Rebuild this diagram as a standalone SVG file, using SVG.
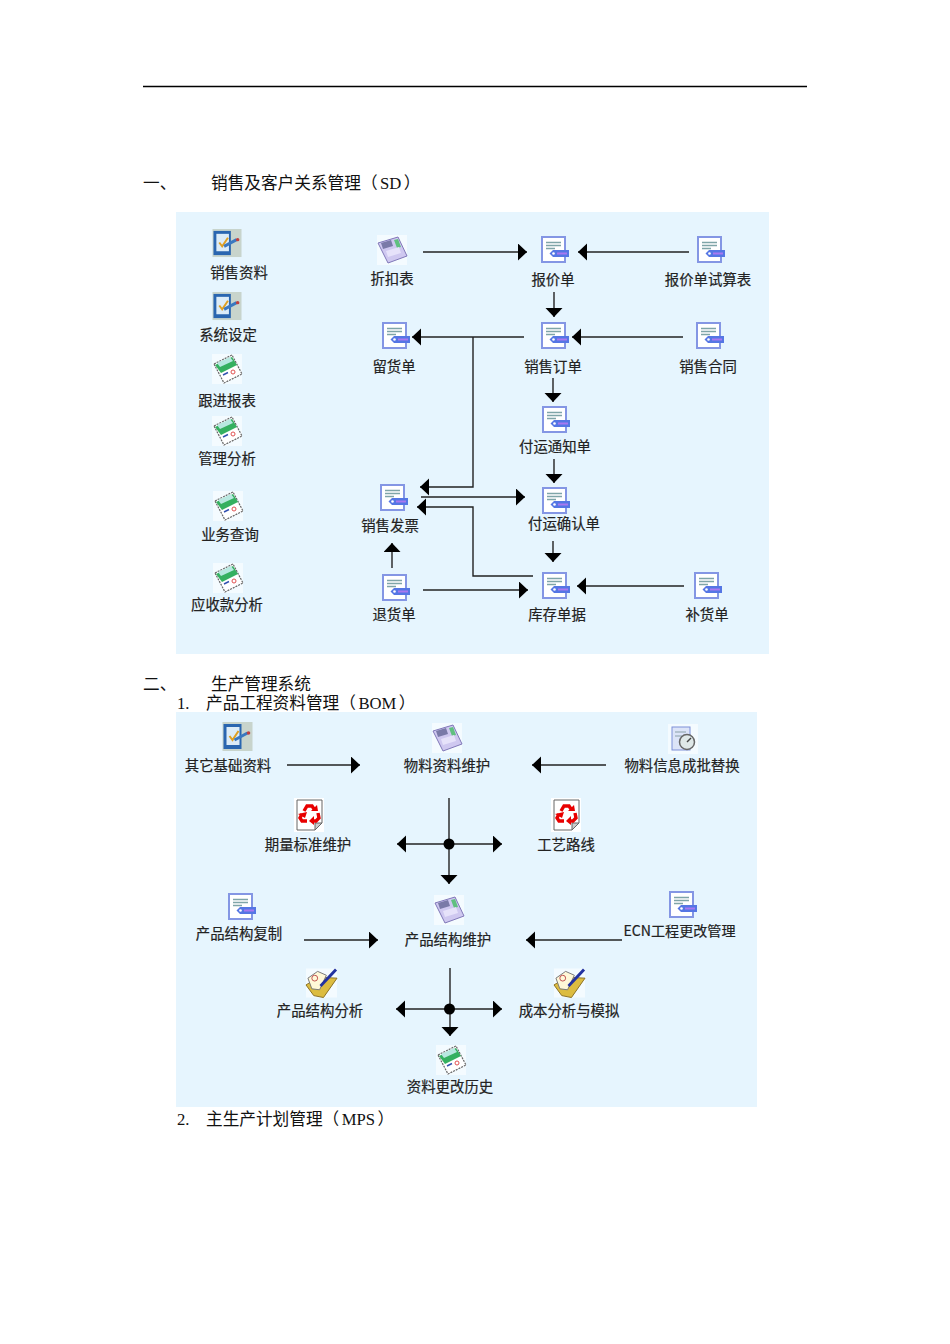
<svg xmlns="http://www.w3.org/2000/svg" width="950" height="1344" viewBox="0 0 950 1344">
<style>
text{font-family:"Liberation Serif","Noto Sans CJK SC",serif;fill:#111}
.h{font-size:16.67px}
.l{font-family:"Noto Sans CJK SC","Noto Sans",sans-serif;font-size:14.4px;text-anchor:middle;fill:#222;stroke:#222;stroke-width:.2px}
.p{fill:#e6f5fe}
.c{fill:none;stroke:#222;stroke-width:1.4}
use{filter:url(#soft)}
</style>
<defs>
<filter id="soft" x="-10%" y="-10%" width="120%" height="120%"><feGaussianBlur stdDeviation=".3"/></filter>
<marker id="a" markerUnits="userSpaceOnUse" markerWidth="10" markerHeight="18" refX="9" refY="8.500" orient="auto"><path d="M0 0L9 8.500L0 17Z" fill="#000"/></marker>
<symbol id="doc" viewBox="0 0 30 30" overflow="visible"><rect x="3" y="2" width="23" height="25" fill="#fff" stroke="#8496e4" stroke-width="2"/><path d="M7 7.500H22M7 10.500H22M7 13.500H16" stroke="#7fa5a8" stroke-width="1.500"/><path d="M14 15H30V22H14L10.500 18.500Z" fill="#5576e4"/><path d="M18 17.500H28V19.500H18Z" fill="#a878f0"/><circle cx="14.500" cy="18.500" r="1.300" fill="#fff"/></symbol>
<symbol id="tab" viewBox="0 0 30 30" overflow="visible"><rect width="30" height="29" fill="#c8d4cc"/><path d="M1 2H19V27H1Z" fill="#2a66b0"/><rect x="4" y="5" width="13" height="18" fill="#dcecf8"/><path d="M7 14L10 18L16 9" fill="none" stroke="#e0a020" stroke-width="2"/><path d="M12 18L25 11" stroke="#3a78c0" stroke-width="3"/><circle cx="26" cy="11" r="1.800" fill="#c04040"/></symbol>
<symbol id="rep" viewBox="0 0 30 30" overflow="visible"><rect width="30" height="30" fill="#f4fbff"/><path d="M2 10L20 1L30 20L12 29Z" fill="#fff" stroke="#666" stroke-width="1.200" stroke-dasharray="2 1"/><path d="M3 11L20 3L25 11L9 19Z" fill="#35b060"/><path d="M5 9L18 3L21 7L8 13Z" fill="#b8e8e0"/><path d="M11 21L16 18.500" stroke="#3050b0" stroke-width="1.500"/><circle cx="21" cy="18" r="2" fill="none" stroke="#e05050"/></symbol>
<symbol id="calc" viewBox="0 0 30 30" overflow="visible"><rect width="30" height="30" fill="#f4fbff"/><path d="M1 8L21 2L30 21L11 28Z" fill="#cfc8f0" stroke="#8078b8"/><path d="M4 8L14 5L16 11L6 14Z" fill="#7a7aa8"/><path d="M17 5L21 4L24 12L20 13Z" fill="#60c080"/><path d="M9 16L22 12L24 18L11 22Z" fill="#e6e2fa"/></symbol>
<symbol id="rec" viewBox="0 0 30 34" overflow="visible"><path d="M0 0H30V34H0Z" fill="#fff"/><path d="M3 2H28V25L21 32H3Z" fill="#fff" stroke="#666"/><path d="M21 32V25H28Z" fill="#ccc" stroke="#666"/><g fill="none" stroke="#e80000" stroke-width="3.400"><path d="M10 13L13 8H18L20 11"/><path d="M24 15L25 20L22 23H19"/><path d="M13 23H8L6 20L8 16"/></g><g fill="#e80000"><path d="M17 13H24L23 7Z"/><path d="M20 18V27L15 23Z"/><path d="M4 16L13 14L11 20Z"/></g></symbol>
<symbol id="gauge" viewBox="0 0 30 30" overflow="visible"><rect width="30" height="30" fill="#f4fbff"/><rect x="4" y="3" width="18" height="23" fill="#dce4f8" stroke="#7d8fd8"/><path d="M7 8H18M7 12H14" stroke="#8aa0a8"/><circle cx="19" cy="18" r="7.500" fill="#dfe8e8" stroke="#666" stroke-width="1.500"/><path d="M19 18L23 14" stroke="#444" stroke-width="1.500"/></symbol>
<symbol id="note" viewBox="0 0 32 30" overflow="visible"><rect width="32" height="30" fill="#f4fbff"/><path d="M0 17L13 9L32 10L18 30L8 28Z" fill="#dcbc40" stroke="#8a7020"/><path d="M2 10L12 3L21 7L14 22L6 21Z" fill="#fff8d8" stroke="#777"/><circle cx="9" cy="10" r="3" fill="none" stroke="#c05050"/><path d="M15 18L31 1" stroke="#2030a0" stroke-width="3"/></symbol>
</defs>
<rect width="950" height="1344" fill="#fff"/>
<path d="M143 86.500H807" stroke="#000" stroke-width="1.500"/>
<text class="h" x="143" y="189">一、</text><text class="h" x="211" y="189">销售及客户关系管理（<tspan dx="2.500">SD</tspan><tspan dx="2.500">）</tspan></text>
<rect id="panel-sd" class="p" x="176" y="212" width="593" height="442"/>
<text class="h" x="143" y="690">二、</text><text class="h" x="211" y="690">生产管理系统</text>
<text class="h" x="177" y="709">1.</text><text class="h" x="206" y="709">产品工程资料管理（<tspan dx="2.500">BOM</tspan><tspan dx="2.500">）</tspan></text>
<rect id="panel-bom" class="p" x="176" y="712" width="581" height="395"/>
<text class="h" x="177" y="1125">2.</text><text class="h" x="206" y="1125">主生产计划管理（<tspan dx="2.500">MPS</tspan><tspan dx="2.500">）</tspan></text>
<g id="connectors" class="c" marker-end="url(#a)">
<path d="M423 252H527"/><path d="M689 252H578"/><path d="M554 292V317"/>
<path d="M524 337H412"/><path d="M683 337H572"/><path d="M553 378V402"/><path d="M554 459V483"/>
<path d="M473 337V487H420"/><path d="M421 497H525"/>
<path d="M533 576H473V507H417"/><path d="M553 541V562"/><path d="M392 568V543"/>
<path d="M423 590H528"/><path d="M684 586H577"/>
<path d="M287 765H360"/><path d="M606 765H532"/>
<path d="M449 798V884"/><path d="M449 844H397"/><path d="M449 844H502"/>
<path d="M304 940H378"/><path d="M622 940H526"/>
<path d="M450 968V1036"/><path d="M450 1009H396"/><path d="M450 1009H502"/>
</g>
<g id="dots"><circle cx="449" cy="844" r="5.500"/><circle cx="449.500" cy="1009" r="5.500"/></g>
<g id="n-xszl"><use href="#tab" x="212" y="229" width="30" height="29"/><text class="l" x="239" y="278">销售资料</text></g>
<g id="n-xtsd"><use href="#tab" x="212" y="292" width="30" height="29"/><text class="l" x="228" y="340">系统设定</text></g>
<g id="n-gjbb"><use href="#rep" x="212" y="354" width="30" height="30"/><text class="l" x="227" y="406">跟进报表</text></g>
<g id="n-glfx"><use href="#rep" x="212" y="416" width="30" height="30"/><text class="l" x="227" y="464">管理分析</text></g>
<g id="n-ywcx"><use href="#rep" x="213" y="491" width="30" height="30"/><text class="l" x="230" y="540">业务查询</text></g>
<g id="n-yskfx"><use href="#rep" x="213" y="563" width="30" height="30"/><text class="l" x="227" y="610">应收款分析</text></g>
<g id="n-zkb"><use href="#calc" x="377" y="235" width="30" height="30"/><text class="l" x="392" y="284">折扣表</text></g>
<g id="n-bjd"><use href="#doc" x="539" y="235" width="30" height="30"/><text class="l" x="553" y="285">报价单</text></g>
<g id="n-bjdss"><use href="#doc" x="695" y="235" width="30" height="30"/><text class="l" x="708" y="285">报价单试算表</text></g>
<g id="n-lhd"><use href="#doc" x="380" y="321" width="30" height="30"/><text class="l" x="394" y="372">留货单</text></g>
<g id="n-xsdd"><use href="#doc" x="539" y="321" width="30" height="30"/><text class="l" x="553" y="372">销售订单</text></g>
<g id="n-xsht"><use href="#doc" x="694" y="321" width="30" height="30"/><text class="l" x="708" y="372">销售合同</text></g>
<g id="n-fytz"><use href="#doc" x="540" y="405" width="30" height="30"/><text class="l" x="555" y="452">付运通知单</text></g>
<g id="n-xsfp"><use href="#doc" x="378" y="483" width="30" height="30"/><text class="l" x="390" y="531">销售发票</text></g>
<g id="n-fyqr"><use href="#doc" x="540" y="486" width="30" height="30"/><text class="l" x="564" y="529">付运确认单</text></g>
<g id="n-thd"><use href="#doc" x="380" y="573" width="30" height="30"/><text class="l" x="394" y="620">退货单</text></g>
<g id="n-kcdj"><use href="#doc" x="540" y="571" width="30" height="30"/><text class="l" x="557" y="620">库存单据</text></g>
<g id="n-bhd"><use href="#doc" x="692" y="571" width="30" height="30"/><text class="l" x="707" y="620">补货单</text></g>
<g id="n-qtjc"><use href="#tab" x="222" y="722" width="31" height="30"/><text class="l" x="228" y="771">其它基础资料</text></g>
<g id="n-wlzl"><use href="#calc" x="432" y="723" width="30" height="30"/><text class="l" x="447" y="771">物料资料维护</text></g>
<g id="n-wlxx"><use href="#gauge" x="668" y="724" width="30" height="30"/><text class="l" x="682" y="771">物料信息成批替换</text></g>
<g id="n-qlbz"><use href="#rec" x="294" y="798" width="30" height="34"/><text class="l" x="308" y="850">期量标准维护</text></g>
<g id="n-gylx"><use href="#rec" x="551" y="798" width="30" height="34"/><text class="l" x="566" y="850">工艺路线</text></g>
<g id="n-cpfz"><use href="#doc" x="226" y="892" width="30" height="30"/><text class="l" x="239" y="939">产品结构复制</text></g>
<g id="n-cpwh"><use href="#calc" x="434" y="895" width="30" height="30"/><text class="l" x="448" y="945">产品结构维护</text></g>
<g id="n-ecn"><use href="#doc" x="667" y="890" width="30" height="30"/><text class="l" x="679.500" y="936" style="font-size:14.100px">ECN工程更改管理</text></g>
<g id="n-cpfx"><use href="#note" x="306" y="968" width="31" height="30"/><text class="l" x="320" y="1016">产品结构分析</text></g>
<g id="n-cbfx"><use href="#note" x="554" y="968" width="31" height="30"/><text class="l" x="569" y="1016">成本分析与模拟</text></g>
<g id="n-zlls"><use href="#rep" x="436" y="1045" width="30" height="30"/><text class="l" x="450" y="1092">资料更改历史</text></g>
</svg>
